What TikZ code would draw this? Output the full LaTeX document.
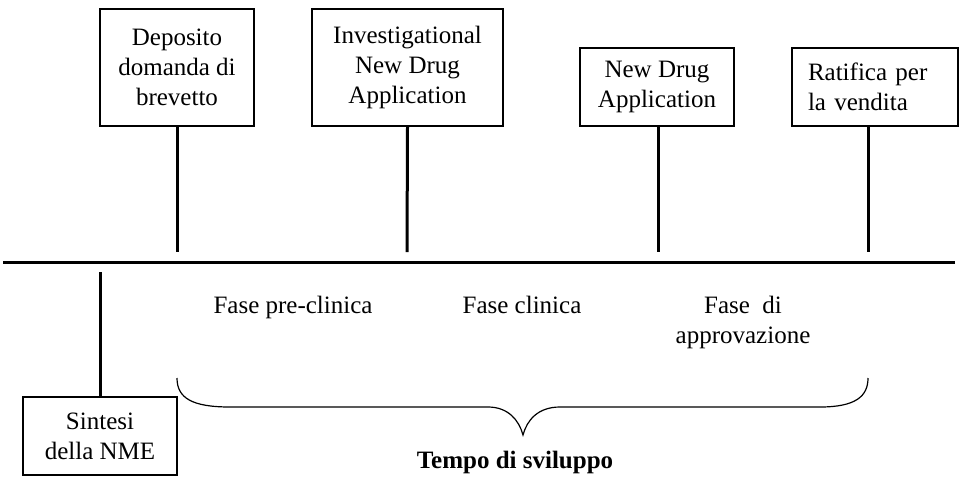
\documentclass[tikz,border=0pt]{standalone}
\usepackage{fontspec}
\setmainfont{Liberation Serif}
\begin{document}
\begin{tikzpicture}[x=1pt,y=-1pt,
  every node/.style={font=\fontsize{25}{30}\selectfont},
  evbox/.style={draw, line width=1.4pt, inner sep=0pt, align=center},
  stem/.style={line width=3pt},
  phase/.style={align=center, inner sep=0pt, anchor=base}]
\useasboundingbox (0,0) rectangle (968,490);
% main time line
\coordinate (lineL) at (3,262);
\coordinate (lineR) at (955,262);
\draw[line width=3pt] (lineL) -- (lineR);
% event boxes above
\node[evbox, minimum width=154pt, minimum height=117pt] (b1) at (177,67.5) {Deposito\\domanda di\\brevetto};
\node[evbox, minimum width=191pt, minimum height=117pt] (b2) at (407.5,67.5) {Investigational\\New Drug\\Application};
\node[evbox, minimum width=154pt, minimum height=78pt] (b3) at (657,87) {New Drug\\Application};
\node[evbox, minimum width=166pt, minimum height=78pt, text width=134pt, inner xsep=16pt, align=left] (b4) at (875,87) {Ratifica per\\la vendita};
\coordinate (t1) at (177,252);
\coordinate (t2) at (407,252);
\coordinate (t3) at (658,252);
\coordinate (t4) at (868,252);
\draw[stem] (b1.south) -- (t1);
\draw[stem] (b2.south) -- (t2);
\draw[stem] (b3.south -| t3) -- (t3);
\draw[stem] (b4.south -| t4) -- (t4);
% box below
\node[evbox, minimum width=154pt, minimum height=78pt] (b0) at (100,436) {Sintesi\\della NME};
\coordinate (t0) at (100,272);
\draw[stem] (t0) -- (b0.north);
% phases
\node[phase] (p1) at (293,313) {Fase pre-clinica};
\node[phase] (p2) at (522,313) {Fase clinica};
\node[phase] (p3) at (743,343) {Fase\ \ di\\approvazione};
% brace
\draw[line width=1.2pt] (177,378) .. controls (177,398) and (192,407) .. (230,407)
  -- (488,407) .. controls (508,407) and (519,420) .. (523,435)
  .. controls (527,420) and (538,407) .. (560,407)
  -- (820,407) .. controls (856,407) and (868,396) .. (868,378);
\node[phase, font=\fontsize{25}{30}\selectfont\bfseries] (tempo) at (515,468) {Tempo di sviluppo};
\end{tikzpicture}
\end{document}
